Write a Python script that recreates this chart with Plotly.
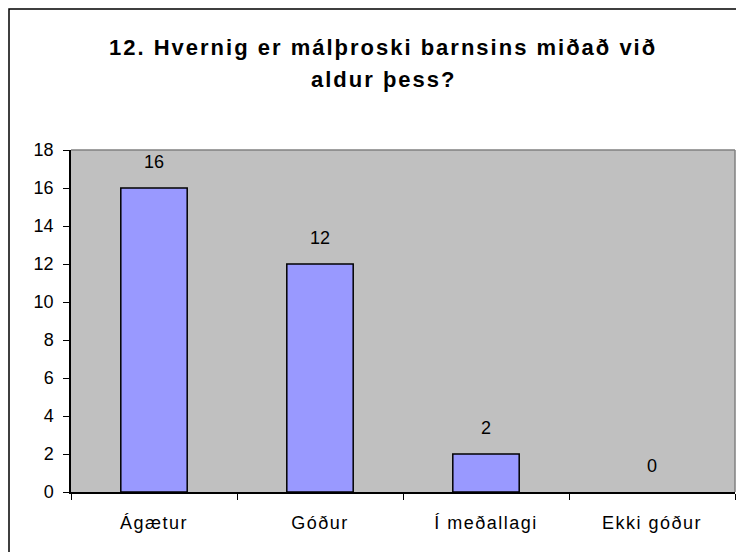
import plotly.graph_objects as go

categories = ["Ágætur", "Góður", "Í meðallagi", "Ekki góður"]
values = [16, 12, 2, 0]
title_lines = ["12. Hvernig er málþroski barnsins miðað við", "aldur þess?"]

# the page body adds an 8px margin on each side, so keep the figure inside the
# window: figure px = reference px - 8
W, H = 728, 544
L, R, T, B = 63, 1, 142, 60
pw, ph = W - L - R, H - T - B

font = "Liberation Sans, Arial, sans-serif"


def spaced(s, px):
    return '<span style="letter-spacing:%spx">%s</span>' % (px, s)


fig = go.Figure()
fig.add_trace(go.Bar(
    x=categories, y=values, width=0.4,
    marker=dict(color="#9999FF",
                line=dict(color="black", width=[1.5 if v else 0 for v in values])),
    hoverinfo="skip",
))

# data labels above bars
for c, v in zip(categories, values):
    fig.add_annotation(x=c, y=v, text=str(v), showarrow=False,
                       yanchor="middle", yshift=26,
                       font=dict(family=font, size=18, color="black"))

# title as two lines (Excel spacing)
for i, line in enumerate(title_lines):
    fig.add_annotation(xref="paper", yref="paper",
                       x=(383 - 8 - L) / pw, y=(H - B - (47 - 8 + 33 * i)) / ph,
                       text="<b>" + spaced(line, 2) + "</b>", showarrow=False,
                       xanchor="center", yanchor="middle",
                       font=dict(family=font, size=22, color="black"))

# outer chart frame (cropped on right and bottom)
fig.add_shape(type="rect", xref="paper", yref="paper",
              x0=(1 - L) / pw, x1=(W + 10 - L) / pw,
              y0=-(B + 10) / ph, y1=(H - B - 1) / ph,
              line=dict(color="black", width=1.5), layer="below")
# gray plot-area border on top and right
fig.add_shape(type="line", xref="paper", yref="paper", x0=0, x1=1, y0=1, y1=1,
              line=dict(color="#808080", width=1.5))
fig.add_shape(type="line", xref="paper", yref="paper", x0=1, x1=1, y0=0, y1=1,
              line=dict(color="#808080", width=1.5))

fig.update_layout(
    width=W, height=H,
    margin=dict(l=L, r=R, t=T, b=B),
    paper_bgcolor="white",
    plot_bgcolor="#C0C0C0",
    showlegend=False,
    font=dict(family=font, size=18, color="black"),
)
fig.update_xaxes(
    showline=True, linecolor="black", linewidth=1.5,
    ticks="outside", ticklen=6, tickcolor="black", tickson="boundaries",
    tickvals=categories, ticktext=[spaced(c, 1.5) for c in categories],
    ticklabelstandoff=14, showgrid=False, fixedrange=True,
    tickfont=dict(family=font, size=18),
)
fig.update_yaxes(
    range=[0, 18], dtick=2, showline=True, linecolor="black", linewidth=1.5,
    ticks="outside", ticklen=6, tickcolor="black", ticklabelstandoff=6,
    showgrid=False, zeroline=False, fixedrange=True,
    tickfont=dict(family=font, size=18),
)

fig.write_html("out.html")
